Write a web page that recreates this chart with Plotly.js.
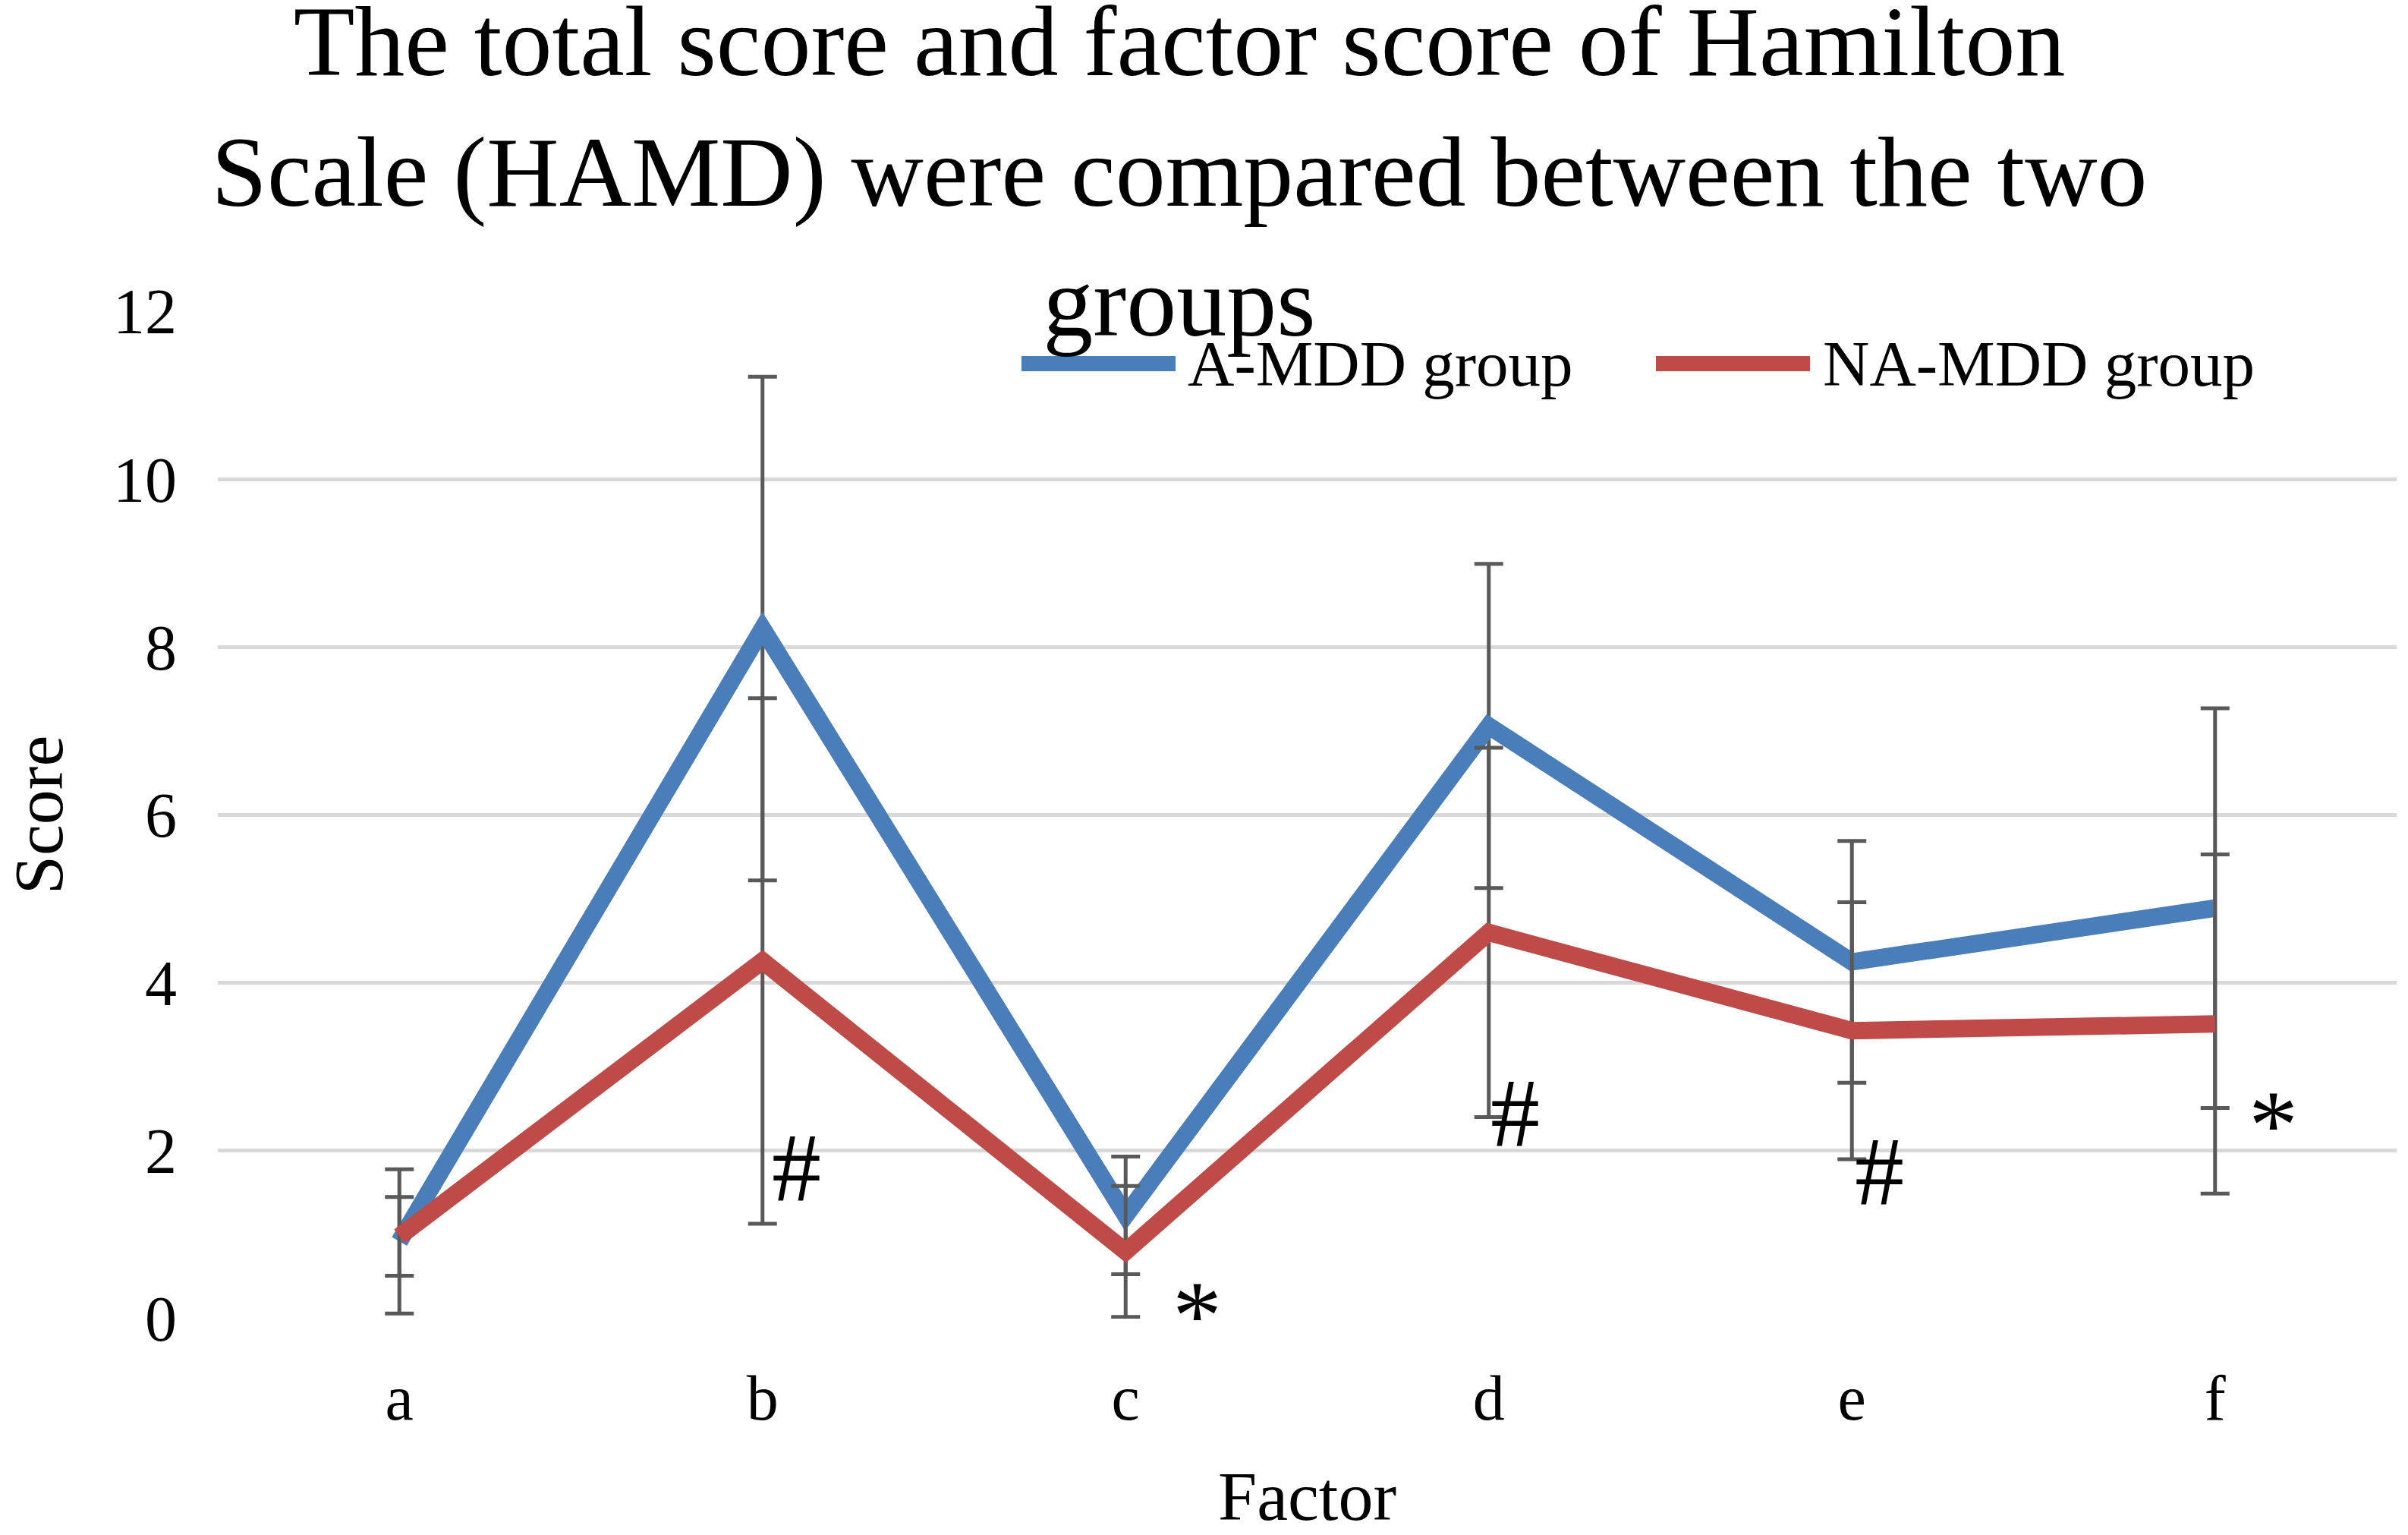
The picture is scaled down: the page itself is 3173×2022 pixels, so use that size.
<!DOCTYPE html>
<html>
<head>
<meta charset="utf-8">
<script src="https://cdn.plot.ly/plotly-3.0.1.min.js"></script>
<style>html,body{margin:0;padding:0;background:#fff;}#chart{width:3173px;height:2022px;}</style>
</head>
<body>
<div id="chart"></div>
<script>
// ---- data ----
const categories = ['a', 'b', 'c', 'd', 'e', 'f'];
const seriesNames = ['A-MDD group', 'NA-MDD group'];
const amddMean = [0.92, 8.22, 1.23, 7.06, 4.25, 4.89];
const amddSD   = [0.86, 3.00, 0.70, 1.93, 1.44, 2.38];
const namddMean = [0.98, 4.26, 0.80, 4.60, 3.43, 3.51];
const namddSD   = [0.47, 3.13, 0.78, 2.20, 1.53, 2.02];
const sigCategories = ['b', 'c', 'd', 'e', 'f'];
const sigMarks = ['#', '*', '#', '#', '*'];
const sigLevels = [1.80, 0.20, 2.45, 1.75, 2.47];
const yTicks = [0, 2, 4, 6, 8, 10, 12];
const titleLines = ['The total score and factor score of Hamilton', 'Scale (HAMD) were compared between the two', 'groups'];
const xTitle = 'Factor';
const yTitle = 'Score';

// ---- layout helpers ----
const W = 3173, H = 2022;
const L = 287, R = 3158, T = 410, B = 1737;
const px2x = px => (px - L) / (R - L);
const py2y = py => (B - py) / (B - T);
const FONT = 'Liberation Serif, Times New Roman, serif';
const BLUE = '#4a7ebb', RED = '#be4b48', ERR = '#595959';

const traces = [
  {
    type: 'scatter', mode: 'lines', name: seriesNames[0],
    x: categories, y: amddMean,
    line: {color: BLUE, width: 23},
    error_y: {type: 'data', array: amddSD, visible: true, color: ERR, thickness: 5, width: 19},
    showlegend: false
  },
  {
    type: 'scatter', mode: 'lines', name: seriesNames[1],
    x: categories, y: namddMean,
    line: {color: RED, width: 23},
    error_y: {type: 'data', array: namddSD, visible: true, color: ERR, thickness: 5, width: 19},
    showlegend: false
  }
];

const sigXShift = [45, 94, 35, 36, 77];
const annotations = sigMarks.map((m, i) => ({
  x: sigCategories[i], y: sigLevels[i], xref: 'x', yref: 'y',
  text: m, showarrow: false, xanchor: 'center', yanchor: 'middle',
  xshift: sigXShift[i], yshift: m === '*' ? -17 : 0,
  font: {family: FONT, size: 130, color: '#000'}
}));

// custom legend
const legendItems = [
  {x0: 1346, x1: 1549, tx: 1563, color: BLUE, name: seriesNames[0]},
  {x0: 2182, x1: 2385, tx: 2400, color: RED, name: seriesNames[1]}
];
const legY = 479;
const shapes = legendItems.map(it => ({
  type: 'line', xref: 'paper', yref: 'paper',
  x0: px2x(it.x0), x1: px2x(it.x1), y0: py2y(legY), y1: py2y(legY),
  line: {color: it.color, width: 20}
}));
legendItems.forEach(it => annotations.push({
  xref: 'paper', yref: 'paper', x: px2x(it.tx), y: py2y(legY),
  text: it.name, showarrow: false, xanchor: 'left', yanchor: 'middle',
  font: {family: FONT, size: 85, color: '#000'}
}));

const layout = {
  width: W, height: H,
  margin: {l: L, r: W - R, t: T, b: H - B, pad: 0},
  paper_bgcolor: '#fff', plot_bgcolor: '#fff',
  font: {family: FONT, color: '#000'},
  showlegend: false,
  title: {
    text: titleLines.join('<br>'),
    font: {family: FONT, size: 132, color: '#000'},
    xref: 'container', yref: 'container',
    x: 1554 / W, xanchor: 'center',
    y: 1 - 99 / H, yanchor: 'top'
  },
  xaxis: {
    type: 'category', categoryorder: 'array', categoryarray: categories,
    range: [-0.5, 5.5], showgrid: false, zeroline: false, showline: false,
    ticks: '', tickfont: {family: FONT, size: 84, color: '#000'},
    ticklabelstandoff: 48,
    title: {text: xTitle, font: {family: FONT, size: 92, color: '#000'}, standoff: 52}
  },
  yaxis: {
    range: [0, 12], tickvals: yTicks, ticktext: yTicks.map(String),
    showgrid: true, gridcolor: '#d9d9d9', gridwidth: 5,
    zeroline: false, showline: false, ticks: '',
    tickfont: {family: FONT, size: 84, color: '#000'},
    ticklabelstandoff: 53,
    title: {text: yTitle, font: {family: FONT, size: 92, color: '#000'}, standoff: 52}
  },
  annotations: annotations,
  shapes: shapes
};

Plotly.newPlot('chart', traces, layout, {staticPlot: true, displayModeBar: false});
</script>
</body>
</html>
